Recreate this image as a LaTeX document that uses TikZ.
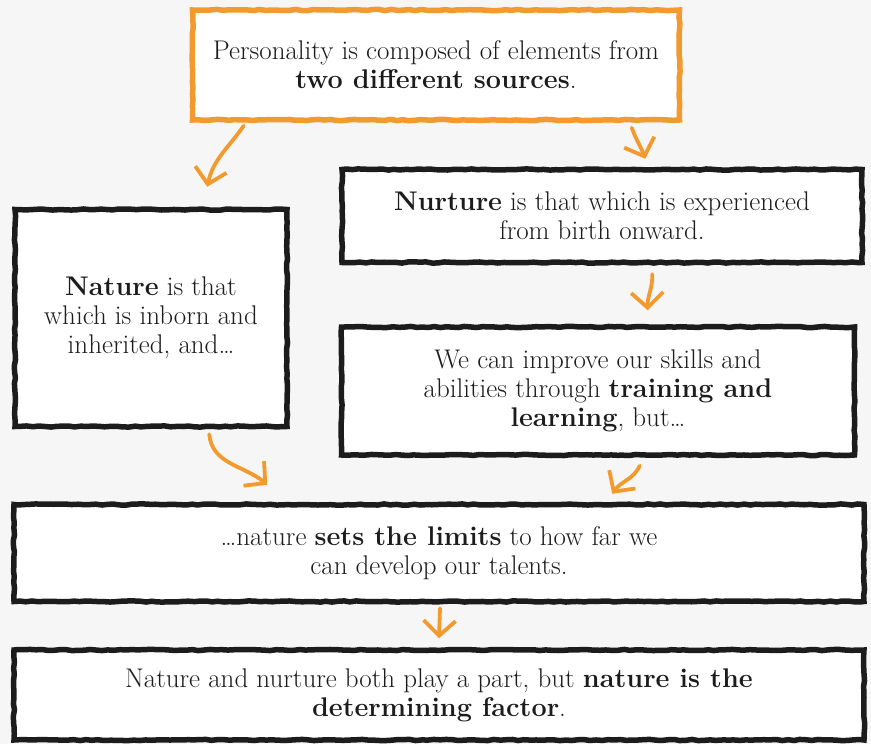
\documentclass[tikz,border=0pt]{standalone}
\usetikzlibrary{arrows.meta,decorations.pathmorphing}
\definecolor{sketchorange}{HTML}{F29A2E}
\definecolor{inkblack}{HTML}{1C1C1C}
\definecolor{paper}{HTML}{F6F6F6}
\tikzset{
  box/.style={draw=inkblack, line width=5.5pt, fill=white, align=center, inner sep=0pt,
    decorate, decoration={random steps, segment length=6pt, amplitude=0.6pt},
    text=inkblack, font=\fontsize{27}{29}\selectfont},
  lead/.style={draw=sketchorange, line width=3.8pt, line cap=round,
    -{Straight Barb[length=15pt,width=32pt]}}
}
\begin{document}
\begin{tikzpicture}[x=1pt, y=-1pt]
    \pgfmathsetseed{7}
    \fill[paper] (0,0) rectangle (871,744);
    \useasboundingbox (0,0) rectangle (871,744);
    % boxes
    \node[box, draw=sketchorange, minimum width=487pt, minimum height=110pt] (top) at (436,65)
        {Personality is composed of elements from\\ \textbf{two different sources}.};
    \node[box, minimum width=272pt, minimum height=217pt] (nat) at (151,318)
        {\textbf{Nature} is that\\ which is inborn and\\ inherited, and\ldots};
    \node[box, minimum width=520pt, minimum height=93pt] (nur) at (602,216)
        {\textbf{Nurture} is that which is experienced\\ from birth onward.};
    \node[box, minimum width=513pt, minimum height=128pt] (trn) at (598,391)
        {We can improve our skills and\\ abilities through \textbf{training and}\\ \textbf{learning}, but\ldots};
    \node[box, minimum width=850pt, minimum height=97pt] (lim) at (439,553)
        {\ldots nature \textbf{sets the limits} to how far we\\ can develop our talents.};
    \node[box, minimum width=850pt, minimum height=90pt] (fin) at (439,695)
        {Nature and nurture both play a part, but \textbf{nature is the}\\ \textbf{determining factor}.};
    % arrows
    \draw[lead] ([xshift=54pt,yshift=-3pt]top.south west) to[out=-125,in=78] ([xshift=195pt,yshift=20pt]nat.north west);
    \draw[lead] ([xshift=442pt,yshift=-5pt]top.south west) to[out=-70,in=110] ([xshift=306pt,yshift=8pt]nur.north west);
    \draw[lead] ([xshift=313pt,yshift=-9pt]nur.south west) to[out=-88,in=92] ([xshift=309pt,yshift=14pt]trn.north west);
    \draw[lead] ([xshift=197pt,yshift=-5pt]nat.south west) to[out=-85,in=140] ([xshift=256pt,yshift=17pt]lim.north west);
    \draw[lead] ([xshift=301pt,yshift=-8pt]trn.south west) to[out=-115,in=55] ([xshift=601pt,yshift=8pt]lim.north west);
    \draw[lead] ([xshift=1pt,yshift=-4pt]lim.south) -- ([yshift=9pt]fin.north);
\end{tikzpicture}
\end{document}
